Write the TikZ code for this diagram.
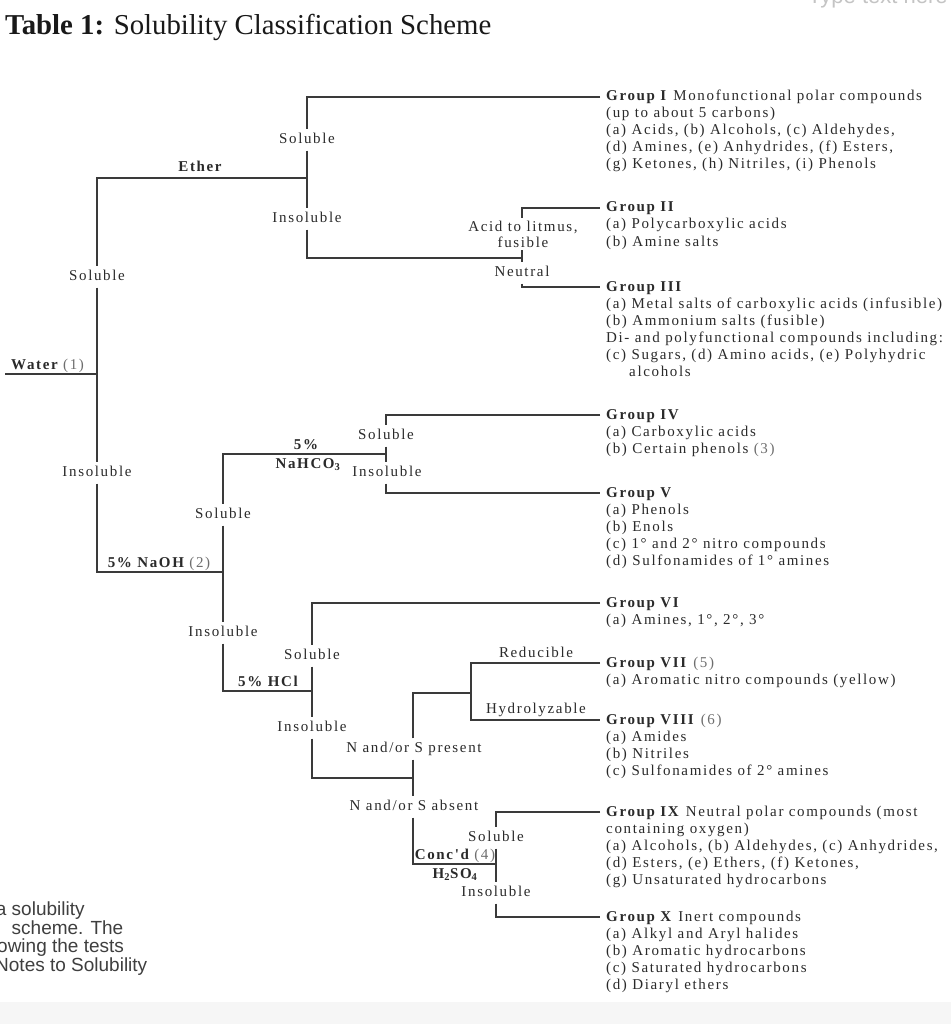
\documentclass[tikz,border=0pt]{standalone}
\usepackage{fontspec}
\setmainfont{Liberation Serif}
\newfontfamily\treefont[LetterSpace=11]{Liberation Serif}
\newfontfamily\sidefont{Liberation Sans}
\definecolor{txt}{HTML}{2A2A2A}
\definecolor{refc}{HTML}{6E6E6E}
\definecolor{linec}{HTML}{3A3A3A}
\definecolor{bandc}{HTML}{F6F6F6}
\definecolor{ghost}{HTML}{C4C4C4}
\newcommand\rfn[1]{\textcolor{refc}{\mdseries #1}}
\newcommand\grouptext[4]{%
  \foreach \gl [count=\i] in {#4} {\node[gline] (#1-\i) at (#2, {#3+(\i-1)*17}) {\gl};}%
}
\tikzset{
  ln/.style={draw=linec, line width=1.2pt},
  lbl/.style={font=\treefont\fontsize{15}{16}\selectfont, text=txt, inner xsep=1pt, inner ysep=4pt, text height=10pt, text depth=3pt},
  blbl/.style={lbl, font=\treefont\bfseries\fontsize{15}{16}\selectfont},
  gline/.style={font=\treefont\fontsize{15}{16}\selectfont, text=txt, inner sep=0pt, anchor=base west},
  sidetext/.style={font=\sidefont\fontsize{19}{20}\selectfont, text=txt!90, inner sep=0pt, anchor=base west},
}
\begin{document}
\begin{tikzpicture}[x=1pt, y=-1pt]
\useasboundingbox (0,0) rectangle (951,1024);
\fill[white] (0,0) rectangle (951,1024);
\fill[bandc] (0,1002) rectangle (951,1024);

% title and page fragments
\node[anchor=base west, inner sep=0pt, font=\fontsize{28.8}{30}\selectfont, text=black!90] (title) at (5,35) {\textbf{Table 1:} Solubility Classification Scheme};
\node[anchor=base west, inner sep=0pt, font=\sidefont\fontsize{22}{24}\selectfont, text=ghost] (typetext) at (808,4) {Type text here};
\node[sidetext] (side1) at (-4.3,915) {a solubility};
\node[sidetext] (side2) at (11.5,934) {scheme. The};
\node[sidetext] (side3) at (-3,952.5) {owing the tests};
\node[sidetext] (side4) at (-5,971) {Notes to Solubility};

% junction coordinates
\coordinate (wL) at (5,374);   \coordinate (wJ) at (97,374);
\coordinate (ethJ) at (97,178); \coordinate (ethR) at (307,178);
\coordinate (naohJ) at (97,572); \coordinate (naohR) at (223,572);
\coordinate (g1L) at (307,97);  \coordinate (g1E) at (600,97);
\coordinate (insBJ) at (307,258); \coordinate (acidJ) at (522,258);
\coordinate (g2L) at (522,208); \coordinate (g2E) at (600,208);
\coordinate (g3L) at (522,287); \coordinate (g3E) at (600,287);
\coordinate (nahJ) at (223,454); \coordinate (nahR) at (386,454);
\coordinate (hclJ) at (223,691); \coordinate (hclR) at (312,691);
\coordinate (g4L) at (386,415); \coordinate (g4E) at (600,415);
\coordinate (g5L) at (386,493); \coordinate (g5E) at (600,493);
\coordinate (g6L) at (312,603); \coordinate (g6E) at (600,603);
\coordinate (nJ) at (312,778);  \coordinate (nR) at (413,778);
\coordinate (npTop) at (413,693); \coordinate (redJ) at (471,693);
\coordinate (g7L) at (471,663); \coordinate (g7E) at (600,663);
\coordinate (g8L) at (471,720); \coordinate (g8E) at (600,720);
\coordinate (concJ) at (413,864); \coordinate (concR) at (496,864);
\coordinate (g9L) at (496,812); \coordinate (g9E) at (600,812);
\coordinate (g10L) at (496,917); \coordinate (g10E) at (600,917);

% labels
\node[anchor=base west, inner sep=0pt, font=\treefont\bfseries\fontsize{15}{16}\selectfont, text=txt] (water) at (11,369) {Water \rfn{(1)}};
\node[blbl] (ether) at (200,168) {Ether};
\node[lbl] (solA) at (97,277) {Soluble};
\node[lbl] (insA) at (97,473) {Insoluble};
\node[lbl] (solB) at (307,140) {Soluble};
\node[lbl] (insB) at (307,219) {Insoluble};
\node[lbl, align=center, text height=, text depth=, inner ysep=3pt, font=\treefont\fontsize{15}{16}\selectfont] (acid) at (523,234) {Acid to litmus,\\fusible};
\node[lbl] (neutral) at (522,273) {Neutral};
\node[blbl] (naoh) at (159,564) {5\% NaOH \rfn{(2)}};
\node[lbl] (solC) at (223,515) {Soluble};
\node[lbl] (insC) at (223,633) {Insoluble};
\node[blbl] (nah1) at (306,446) {5\%};
\node[blbl] (nah2) at (308,465) {NaHCO\textsubscript{3}};
\node[lbl] (solD) at (386,436) {Soluble};
\node[lbl] (insD) at (387,473) {Insoluble};
\node[blbl] (hcl) at (268,683) {5\% HCl};
\node[lbl] (solE) at (312,656) {Soluble};
\node[lbl] (insE) at (312,728) {Insoluble};
\node[lbl] (reduc) at (536,654) {Reducible};
\node[lbl] (hydro) at (536,710) {Hydrolyzable};
\node[lbl] (npres) at (414,749) {N and/or S present};
\node[lbl] (nabs) at (414,807) {N and/or S absent};
\node[blbl] (conc) at (455,856) {Conc'd \rfn{(4)}};
\node[blbl] (hso) at (455,875) {H\textsubscript{2}SO\textsubscript{4}};
\node[lbl] (solF) at (496,838) {Soluble};
\node[lbl] (insF) at (496,893) {Insoluble};

% connectors
\draw[ln] (wL) -- (wJ);
\draw[ln] (ethR) -- (ethJ) -- (solA.north);
\draw[ln] (solA.south) -- (insA.north);
\draw[ln] (insA.south) -- (naohJ) -- (naohR);
\draw[ln] (g1E) -- (g1L) -- (solB.north);
\draw[ln] (solB.south) -- (insB.north);
\draw[ln] (insB.south) -- (insBJ) -- (acidJ);
\draw[ln] (acid.north -| g2L) -- (g2L) -- (g2E);
\draw[ln] (acid.south -| acidJ) -- (neutral.north);
\draw[ln] (neutral.south) -- (g3L) -- (g3E);
\draw[ln] (nahR) -- (nahJ) -- (solC.north);
\draw[ln] (solC.south) -- (insC.north);
\draw[ln] (insC.south) -- (hclJ) -- (hclR);
\draw[ln] (g4E) -- (g4L) -- (solD.north);
\draw[ln] (solD.south) -- (insD.north -| solD.south);
\draw[ln] (insD.south -| g5L) -- (g5L) -- (g5E);
\draw[ln] (g6E) -- (g6L) -- (solE.north);
\draw[ln] (solE.south) -- (insE.north);
\draw[ln] (insE.south) -- (nJ) -- (nR);
\draw[ln] (npres.north -| npTop) -- (npTop) -- (redJ);
\draw[ln] (g7E) -- (g7L) -- (g8L) -- (g8E);
\draw[ln] (npres.south -| nR) -- (nabs.north -| nR);
\draw[ln] (nabs.south -| concJ) -- (concJ) -- (concR);
\draw[ln] (g9E) -- (g9L) -- (solF.north);
\draw[ln] (solF.south) -- (insF.north);
\draw[ln] (insF.south) -- (g10L) -- (g10E);

% group descriptions
\grouptext{gI}{606}{101}{{\textbf{Group I} Monofunctional polar compounds},{(up to about 5 carbons)},{(a) Acids, (b) Alcohols, (c) Aldehydes,},{(d) Amines, (e) Anhydrides, (f) Esters,},{(g) Ketones, (h) Nitriles, (i) Phenols}}
\grouptext{gII}{606}{212}{{\textbf{Group II}},{(a) Polycarboxylic acids},{(b) Amine salts}}
\grouptext{gIII}{606}{291}{{\textbf{Group III}},{(a) Metal salts of carboxylic acids (infusible)},{(b) Ammonium salts (fusible)},{Di- and polyfunctional compounds including:},{(c) Sugars, (d) Amino acids, (e) Polyhydric},{\hspace{23pt}alcohols}}
\grouptext{gIV}{606}{419}{{\textbf{Group IV}},{(a) Carboxylic acids},{(b) Certain phenols \rfn{(3)}}}
\grouptext{gV}{606}{497}{{\textbf{Group V}},{(a) Phenols},{(b) Enols},{(c) 1° and 2° nitro compounds},{(d) Sulfonamides of 1° amines}}
\grouptext{gVI}{606}{607}{{\textbf{Group VI}},{(a) Amines, 1°, 2°, 3°}}
\grouptext{gVII}{606}{667}{{\textbf{Group VII} \rfn{(5)}},{(a) Aromatic nitro compounds (yellow)}}
\grouptext{gVIII}{606}{724}{{\textbf{Group VIII} \rfn{(6)}},{(a) Amides},{(b) Nitriles},{(c) Sulfonamides of 2° amines}}
\grouptext{gIX}{606}{816}{{\textbf{Group IX} Neutral polar compounds (most},{containing oxygen)},{(a) Alcohols, (b) Aldehydes, (c) Anhydrides,},{(d) Esters, (e) Ethers, (f) Ketones,},{(g) Unsaturated hydrocarbons}}
\grouptext{gX}{606}{921}{{\textbf{Group X} Inert compounds},{(a) Alkyl and Aryl halides},{(b) Aromatic hydrocarbons},{(c) Saturated hydrocarbons},{(d) Diaryl ethers}}
\end{tikzpicture}
\end{document}
